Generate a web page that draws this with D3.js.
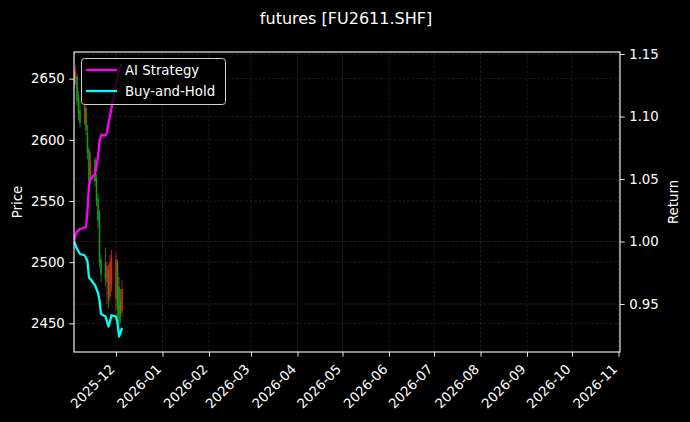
<!DOCTYPE html>
<html>
<head>
<meta charset="utf-8">
<script src="https://cdn.jsdelivr.net/npm/d3@7"></script>
<style>
  html, body { margin: 0; padding: 0; background: #000; }
  svg { display: block; font-family: "DejaVu Sans", sans-serif; }
</style>
</head>
<body>
<svg id="chart"></svg>
<script>
// trading days shown in the chart
const dates = ["2025-11-03","2025-11-04","2025-11-05","2025-11-06","2025-11-07",
  "2025-11-10","2025-11-11","2025-11-12","2025-11-13","2025-11-14",
  "2025-11-17","2025-11-18","2025-11-19","2025-11-20","2025-11-21",
  "2025-11-24","2025-11-25","2025-11-26","2025-11-27","2025-11-28",
  "2025-12-01","2025-12-02","2025-12-03","2025-12-04","2025-12-05"];

// OHLC price
const open  = [2655,2648,2652,2634,2624,2614,2626,2606,2592,2570,2584,2568,2552,2540,2502,2500,2484,2494,2472,2482,2470,2500,2480,2468,2460];
const high  = [2658,2661,2654,2640,2632,2634,2628,2612,2594,2590,2586,2572,2556,2543,2506,2512,2500,2498,2506,2510,2508,2502,2488,2478,2485];
const low   = [2642,2645,2628,2616,2610,2612,2604,2584,2560,2566,2562,2546,2528,2496,2484,2480,2466,2462,2468,2476,2460,2455,2447,2450,2455];
const close = [2646,2656,2632,2622,2614,2628,2608,2590,2566,2582,2566,2550,2534,2500,2490,2486,2497,2470,2500,2504,2502,2462,2452,2458,2478];

// cumulative returns
const aiStrategy = [1.000,1.005,1.008,1.009,1.010,1.011,1.012,1.025,1.045,1.050,1.054,1.060,1.068,1.080,1.085,1.085,1.087,1.095,1.100,1.107,1.125,1.130,1.138,1.140,1.142];
const buyHold    = [1.000,0.997,0.994,0.992,0.990,0.989,0.987,0.984,0.971,0.970,0.965,0.962,0.959,0.953,0.942,0.940,0.936,0.932,0.936,0.941,0.940,0.935,0.924,0.927,0.931];

const priceTicks = [2450, 2500, 2550, 2600, 2650];
const returnTicks = [0.95, 1.00, 1.05, 1.10, 1.15];

const W = 690, H = 422;
const margin = { top: 52, right: 70, bottom: 70, left: 74 };
const parse = d3.utcParse("%Y-%m-%d");
const days = dates.map(parse);

const svg = d3.select("#chart").attr("width", W).attr("height", H);
svg.append("rect").attr("width", W).attr("height", H).attr("fill", "#000");

const x = d3.scaleUtc().domain([parse("2025-11-03"), parse("2026-11-02")]).range([margin.left, W - margin.right]);
const yP = d3.scaleLinear().domain([2426.6, 2671.8]).range([H - margin.bottom, margin.top]);
const yR = d3.scaleLinear().domain([0.9116, 1.1516]).range([H - margin.bottom, margin.top]);

const x0 = margin.left, x1 = W - margin.right, y0 = H - margin.bottom, y1 = margin.top;

svg.append("defs").append("clipPath").attr("id", "plot")
  .append("rect").attr("x", x0).attr("y", y1).attr("width", x1 - x0).attr("height", y0 - y1);

// grid
const grid = svg.append("g").attr("stroke", "#808080").attr("stroke-opacity", 0.42)
  .attr("stroke-width", 0.5).attr("stroke-dasharray", "3,1.5");
const months = x.ticks(d3.utcMonth.every(1));
grid.selectAll(".gx").data(months).enter().append("line")
  .attr("x1", d => x(d)).attr("x2", d => x(d)).attr("y1", y1).attr("y2", y0);
grid.selectAll(".gp").data(priceTicks).enter().append("line")
  .attr("x1", x0).attr("x2", x1).attr("y1", d => yP(d)).attr("y2", d => yP(d));
grid.selectAll(".gr").data(returnTicks).enter().append("line")
  .attr("x1", x0).attr("x2", x1).attr("y1", d => yR(d)).attr("y2", d => yR(d));

// candles
const plot = svg.append("g").attr("clip-path", "url(#plot)");
const up = i => close[i] >= open[i];
const colUp = "#e81e1e", colDn = "#14a014";
const bw = 1.5;
plot.selectAll(".wick").data(days).enter().append("line")
  .attr("x1", d => x(d)).attr("x2", d => x(d))
  .attr("y1", (d, i) => yP(high[i])).attr("y2", (d, i) => yP(low[i]))
  .attr("stroke", (d, i) => up(i) ? colUp : colDn).attr("stroke-width", 0.8);
plot.selectAll(".body").data(days).enter().append("rect")
  .attr("x", d => x(d) - bw / 2).attr("width", bw)
  .attr("y", (d, i) => yP(Math.max(open[i], close[i])))
  .attr("height", (d, i) => Math.max(0.8, Math.abs(yP(open[i]) - yP(close[i]))))
  .attr("fill", (d, i) => up(i) ? colUp : colDn);

// return lines
const line = arr => d3.line().x((d, i) => x(days[i])).y(d => yR(d))(arr);
plot.append("path").attr("d", line(aiStrategy)).attr("fill", "none")
  .attr("stroke", "#ff00ff").attr("stroke-width", 2.3).attr("stroke-linejoin", "round");
plot.append("path").attr("d", line(buyHold)).attr("fill", "none")
  .attr("stroke", "#00ffff").attr("stroke-width", 2.3).attr("stroke-linejoin", "round");

// axes
const fs = "13.3px";
svg.append("g").attr("transform", `translate(${x0},0)`)
  .call(d3.axisLeft(yP).tickValues(priceTicks).tickFormat(d3.format("d")).tickSize(4.7).tickPadding(4.5))
  .call(g => g.select(".domain").remove());
svg.append("g").attr("transform", `translate(${x1},0)`)
  .call(d3.axisRight(yR).tickValues(returnTicks).tickFormat(d3.format(".2f")).tickSize(4.7).tickPadding(4.5))
  .call(g => g.select(".domain").remove());
const xa = svg.append("g").attr("transform", `translate(0,${y0})`)
  .call(d3.axisBottom(x).ticks(d3.utcMonth.every(1)).tickFormat(d3.utcFormat("%Y-%m")).tickSize(4.7))
  .call(g => g.select(".domain").remove());
xa.selectAll("text")
  .attr("text-anchor", "end").attr("dy", null).attr("y", null)
  .attr("transform", "translate(-1,18) rotate(-45)");

svg.selectAll(".tick line").attr("stroke", "#fff").attr("stroke-width", 0.9);
svg.selectAll(".tick text").attr("fill", "#fff").style("font-size", fs)
  .style("font-family", "DejaVu Sans");

svg.append("rect").attr("x", x0).attr("y", y1).attr("width", x1 - x0).attr("height", y0 - y1)
  .attr("fill", "none").attr("stroke", "#fff").attr("stroke-width", 1.1);

// labels
svg.append("text").attr("transform", `translate(22,${(y0 + y1) / 2}) rotate(-90)`)
  .attr("text-anchor", "middle").attr("fill", "#fff").style("font-size", fs).text("Price");
svg.append("text").attr("transform", `translate(678,${(y0 + y1) / 2}) rotate(-90)`)
  .attr("text-anchor", "middle").attr("fill", "#fff").style("font-size", fs).text("Return");
svg.append("text").attr("x", 346).attr("y", 24).attr("text-anchor", "middle")
  .attr("fill", "#fff").style("font-size", "16px").text("futures [FU2611.SHF]");

// legend
const lg = svg.append("g");
lg.append("rect").attr("x", 81.5).attr("y", 58.5).attr("width", 144).attr("height", 46).attr("rx", 3)
  .attr("fill", "#000").attr("fill-opacity", 0.8).attr("stroke", "#d0d0d0").attr("stroke-width", 1);
const items = [["AI Strategy", "#ff00ff"], ["Buy-and-Hold", "#00ffff"]];
items.forEach(([name, c], i) => {
  const yy = 70 + i * 21;
  lg.append("line").attr("x1", 86).attr("x2", 117).attr("y1", yy).attr("y2", yy)
    .attr("stroke", c).attr("stroke-width", 2.3);
  lg.append("text").attr("x", 125).attr("y", yy + 4.6).attr("fill", "#fff")
    .style("font-size", fs).text(name);
});
</script>
</body>
</html>
